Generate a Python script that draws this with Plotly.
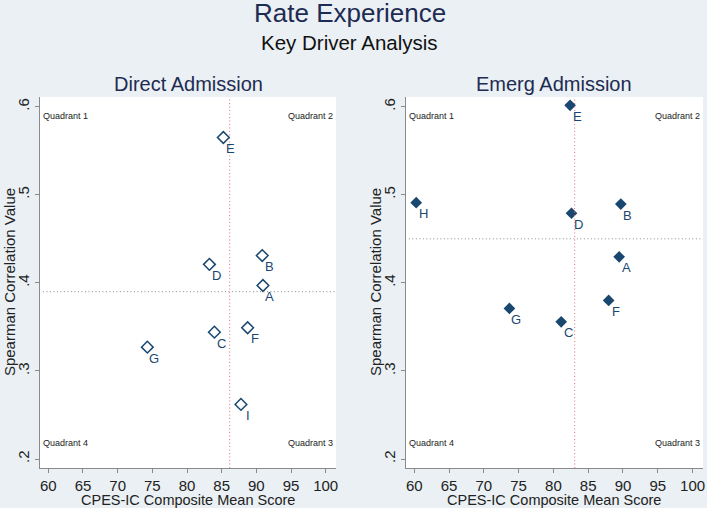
import plotly.graph_objects as go

# ---- data ----
direct_labels = ["A", "B", "C", "D", "E", "F", "G", "I"]
direct_x = [90.95, 90.85, 83.95, 83.23, 85.24, 88.74, 74.28, 87.78]
direct_y = [0.397, 0.431, 0.344, 0.421, 0.565, 0.349, 0.327, 0.262]
direct_ref_x = 86.15
direct_ref_y = 0.390

emerg_labels = ["A", "B", "C", "D", "E", "F", "G", "H"]
emerg_x = [89.45, 89.69, 81.12, 82.60, 82.40, 87.94, 73.68, 60.28]
emerg_y = [0.4295, 0.4894, 0.3557, 0.479, 0.6016, 0.380, 0.371, 0.491]
emerg_ref_x = 83.06
emerg_ref_y = 0.450

x_ticks = [60, 65, 70, 75, 80, 85, 90, 95, 100]
y_ticks = [0.2, 0.3, 0.4, 0.5, 0.6]
y_tick_text = [".2", ".3", ".4", ".5", ".6"]

# ---- style ----
W, H = 707, 508
ML, MR, MT, MB = 40, 2, 97, 40
PW, PH = W - ML - MR, H - MT - MB
NAVY = "#1a476f"
BG = "#eaf0f3"
FONT = "Liberation Sans, Arial, Helvetica, sans-serif"

def px(x):
    return (x - ML) / PW

def py(y):
    return (H - MB - y) / PH

fig = go.Figure()

fig.add_trace(go.Scatter(
    x=direct_x, y=direct_y, mode="markers",
    marker=dict(symbol="diamond-open", size=9, color=NAVY, line=dict(width=1.5, color=NAVY)),
    xaxis="x", yaxis="y", showlegend=False, cliponaxis=False, hoverinfo="skip"))

fig.add_trace(go.Scatter(
    x=emerg_x, y=emerg_y, mode="markers",
    marker=dict(symbol="diamond", size=9, color=NAVY),
    xaxis="x2", yaxis="y2", showlegend=False, cliponaxis=False, hoverinfo="skip"))

xr = [58.8, 101.5]
yr = [0.1898, 0.611]
left_dom = [0, px(337)]
right_dom = [px(407), 1]

axis_common = dict(showgrid=False, zeroline=False, showline=True, linecolor="#8a8a8a",
                   linewidth=1.2, ticks="outside", ticklen=4, tickcolor="#8a8a8a",
                   tickfont=dict(size=15, color="#222", family=FONT))

fig.update_layout(
    width=W, height=H, margin=dict(l=ML, r=MR, t=MT, b=MB),
    paper_bgcolor=BG, plot_bgcolor="white",
    font=dict(family=FONT),
    xaxis=dict(domain=left_dom, range=xr, tickvals=x_ticks, anchor="y", **axis_common),
    yaxis=dict(domain=[0, 1], range=yr, tickvals=y_ticks, ticktext=y_tick_text,
               tickangle=-90, anchor="x", **axis_common),
    xaxis2=dict(domain=right_dom, range=xr, tickvals=x_ticks, anchor="y2", **axis_common),
    yaxis2=dict(domain=[0, 1], range=yr, tickvals=y_ticks, ticktext=y_tick_text,
                tickangle=-90, anchor="x2", **axis_common),
)

# reference lines
shapes = []
for xa, ya, rx, ry in [("x", "y", direct_ref_x, direct_ref_y), ("x2", "y2", emerg_ref_x, emerg_ref_y)]:
    shapes.append(dict(type="line", xref=xa, yref=ya + " domain", x0=rx, x1=rx, y0=0, y1=1,
                       line=dict(color="#e5707f", width=1, dash="1px,2.5px")))
    shapes.append(dict(type="line", xref=xa + " domain", yref=ya, x0=0.01, x1=1, y0=ry, y1=ry,
                       line=dict(color="#8a8a8a", width=1, dash="1px,2.5px")))
fig.update_layout(shapes=shapes)

ann = []
# point labels (placed at the data points, shifted to lower right)
for xa, ya, labs, xs, ys in [("x", "y", direct_labels, direct_x, direct_y),
                             ("x2", "y2", emerg_labels, emerg_x, emerg_y)]:
    for t, xv, yv in zip(labs, xs, ys):
        ann.append(dict(text=t, x=xv, y=yv, xref=xa, yref=ya, showarrow=False,
                        xanchor="center", yanchor="middle", xshift=7, yshift=-11,
                        font=dict(size=13, color=NAVY, family=FONT)))
# titles
ann.append(dict(text="Rate Experience", x=px(W / 2 - 3), y=py(13.5), xref="paper", yref="paper",
                showarrow=False, font=dict(size=26, color="#1e2b52", family=FONT),
                xanchor="center", yanchor="middle"))
ann.append(dict(text="Key Driver Analysis", x=px(W / 2 - 3), y=py(43), xref="paper", yref="paper",
                showarrow=False, font=dict(size=20.5, color="#111111", family=FONT),
                xanchor="center", yanchor="middle"))
ann.append(dict(text="Direct Admission", x=px(188.5), y=py(84), xref="paper", yref="paper",
                showarrow=False, font=dict(size=20, color="#1e2b52", family=FONT),
                xanchor="center", yanchor="middle"))
ann.append(dict(text="Emerg Admission", x=px(556), y=py(84), xref="paper", yref="paper",
                showarrow=False, font=dict(size=20, color="#1e2b52", family=FONT),
                xanchor="center", yanchor="middle"))
# axis titles
for cx in [188.5, 556]:
    ann.append(dict(text="CPES-IC Composite Mean Score", x=px(cx), y=py(499.5), xref="paper", yref="paper",
                    showarrow=False, font=dict(size=14.5, color="#222", family=FONT),
                    xanchor="center", yanchor="middle"))
for cx in [9, 376]:
    ann.append(dict(text="Spearman Correlation Value", x=px(cx), y=py(282), xref="paper", yref="paper",
                    showarrow=False, textangle=-90, font=dict(size=15, color="#222", family=FONT),
                    xanchor="center", yanchor="middle"))
# quadrant labels
for xa, ya in [("x", "y"), ("x2", "y2")]:
    for txt, xx, yy, xan in [("Quadrant 1", 0.004, 0.948, "left"), ("Quadrant 2", 0.996, 0.948, "right"),
                             ("Quadrant 4", 0.004, 0.068, "left"), ("Quadrant 3", 0.996, 0.068, "right")]:
        ann.append(dict(text=txt, x=xx, y=yy, xref=xa + " domain", yref=ya + " domain",
                        showarrow=False, xanchor=xan, yanchor="middle",
                        font=dict(size=9, color="#222", family=FONT)))
fig.update_layout(annotations=ann)

fig.write_html("out.html", config={"displayModeBar": False},
               post_script="document.body.style.margin='0px';document.body.style.overflow='hidden';")
